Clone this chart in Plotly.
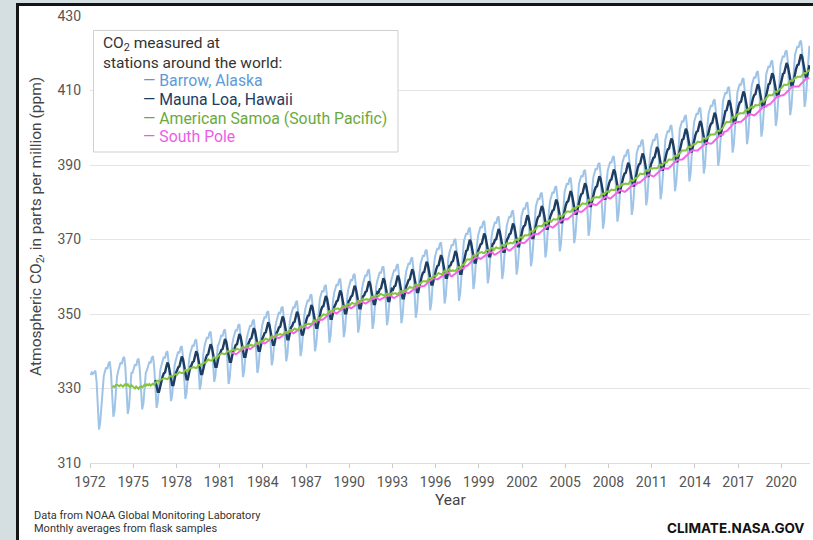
import plotly.graph_objects as go

# ---------------- data (monthly averages, ppm) ----------------
x_tick_years = [1972, 1975, 1978, 1981, 1984, 1987, 1990, 1993, 1996, 1999, 2002, 2005, 2008, 2011, 2014, 2017, 2020]
y_tick_values = [310, 330, 350, 370, 390, 410, 430]

barrow_start = (1972, 1)
barrow = [
    333.6, 334.3, 333.9, 334.5, 334.8, 331.8, 325.3, 319.0, 320.9, 326.1, 330.4, 333.4,
    334.6, 335.7, 335.3, 336.8, 337.2, 334.2, 328.3, 322.4, 324.2, 329.1, 333.1, 334.7,
    335.9, 337.0, 336.6, 338.1, 338.5, 335.5, 329.3, 323.2, 325.0, 330.1, 334.2, 334.2,
    335.4, 336.5, 336.1, 337.6, 338.0, 335.0, 329.8, 324.4, 326.0, 330.5, 334.2, 334.9,
    336.1, 337.2, 336.8, 338.3, 338.7, 335.7, 330.4, 324.8, 326.5, 331.1, 334.8, 336.2,
    337.4, 338.5, 338.1, 339.6, 340.0, 337.0, 332.0, 326.6, 328.2, 332.6, 336.2, 337.6,
    338.8, 339.9, 339.5, 341.0, 341.4, 338.4, 332.9, 327.2, 328.9, 333.6, 337.4, 339.4,
    340.6, 341.7, 341.3, 342.8, 343.2, 340.2, 335.1, 329.7, 331.3, 335.8, 339.4, 341.5,
    342.7, 343.8, 343.4, 344.9, 345.3, 342.3, 337.2, 331.8, 333.4, 337.9, 341.5, 342.1,
    343.3, 344.4, 344.0, 345.5, 345.9, 342.9, 337.1, 331.2, 333.0, 337.8, 341.8, 343.5,
    344.7, 345.8, 345.4, 346.9, 347.3, 344.3, 338.8, 333.1, 334.8, 339.5, 343.3, 344.7,
    345.9, 347.0, 346.6, 348.1, 348.5, 345.5, 339.9, 334.2, 335.9, 340.6, 344.5, 347.0,
    348.2, 349.3, 348.9, 350.4, 350.8, 347.8, 342.0, 336.2, 338.0, 342.8, 346.7, 348.2,
    349.4, 350.5, 350.1, 351.6, 352.0, 349.0, 343.2, 337.3, 339.1, 343.9, 347.9, 349.7,
    350.9, 352.0, 351.6, 353.1, 353.5, 350.5, 344.6, 338.7, 340.5, 345.4, 349.4, 351.5,
    352.7, 353.8, 353.4, 354.9, 355.3, 352.3, 346.1, 340.0, 341.8, 346.9, 351.0, 354.0,
    355.2, 356.3, 355.9, 357.4, 357.8, 354.8, 348.5, 342.3, 344.2, 349.3, 353.5, 355.7,
    356.9, 358.0, 357.6, 359.1, 359.5, 356.5, 350.1, 343.8, 345.7, 350.9, 355.1, 357.0,
    358.2, 359.3, 358.9, 360.4, 360.8, 357.8, 351.3, 345.0, 346.9, 352.1, 356.4, 358.2,
    359.4, 360.5, 360.1, 361.6, 362.0, 359.0, 352.4, 346.0, 347.9, 353.2, 357.5, 359.0,
    360.2, 361.3, 360.9, 362.4, 362.8, 359.8, 353.3, 347.0, 348.9, 354.1, 358.4, 359.6,
    360.8, 361.9, 361.5, 363.0, 363.4, 360.4, 353.9, 347.5, 349.4, 354.7, 359.0, 361.4,
    362.6, 363.7, 363.3, 364.8, 365.2, 362.2, 355.5, 349.0, 350.9, 356.3, 360.7, 363.5,
    364.7, 365.8, 365.4, 366.9, 367.3, 364.3, 357.5, 351.0, 353.0, 358.3, 362.7, 365.4,
    366.6, 367.7, 367.3, 368.8, 369.2, 366.2, 359.4, 352.8, 354.8, 360.2, 364.6, 366.4,
    367.6, 368.7, 368.3, 369.8, 370.2, 367.2, 360.2, 353.5, 355.5, 361.0, 365.5, 369.4,
    370.6, 371.7, 371.3, 372.8, 373.2, 370.2, 363.3, 356.7, 358.7, 364.1, 368.6, 371.2,
    372.4, 373.5, 373.1, 374.6, 375.0, 372.0, 364.9, 358.2, 360.2, 365.8, 370.3, 372.4,
    373.6, 374.7, 374.3, 375.8, 376.2, 373.2, 366.1, 359.4, 361.4, 367.0, 371.5, 374.0,
    375.2, 376.3, 375.9, 377.4, 377.8, 374.8, 367.5, 360.6, 362.7, 368.3, 373.0, 376.2,
    377.4, 378.5, 378.1, 379.6, 380.0, 377.0, 369.7, 362.8, 364.9, 370.5, 375.2, 378.8,
    380.0, 381.1, 380.7, 382.2, 382.6, 379.6, 372.2, 365.2, 367.3, 373.0, 377.7, 380.5,
    381.7, 382.8, 382.4, 383.9, 384.3, 381.3, 373.8, 366.8, 368.9, 374.7, 379.4, 382.8,
    384.0, 385.1, 384.7, 386.2, 386.6, 383.6, 376.0, 369.0, 371.1, 376.9, 381.7, 384.9,
    386.1, 387.2, 386.8, 388.3, 388.7, 385.7, 378.1, 371.0, 373.1, 379.0, 383.7, 386.8,
    388.0, 389.1, 388.7, 390.2, 390.6, 387.6, 380.0, 372.9, 375.0, 380.9, 385.6, 388.6,
    389.8, 390.9, 390.5, 392.0, 392.4, 389.4, 381.8, 374.8, 376.9, 382.7, 387.5, 390.4,
    391.6, 392.7, 392.3, 393.8, 394.2, 391.2, 383.6, 376.6, 378.7, 384.5, 389.3, 393.0,
    394.2, 395.3, 394.9, 396.4, 396.8, 393.8, 386.2, 379.2, 381.3, 387.1, 391.9, 394.6,
    395.8, 396.9, 396.5, 398.0, 398.4, 395.4, 387.8, 380.8, 382.9, 388.7, 393.5, 396.9,
    398.1, 399.2, 398.8, 400.3, 400.7, 397.7, 390.1, 383.0, 385.1, 391.0, 395.7, 399.6,
    400.8, 401.9, 401.5, 403.0, 403.4, 400.4, 392.7, 385.6, 387.7, 393.6, 398.4, 401.6,
    402.8, 403.9, 403.5, 405.0, 405.4, 402.4, 394.8, 387.7, 389.8, 395.7, 400.5, 403.8,
    405.0, 406.1, 405.7, 407.2, 407.6, 404.6, 396.9, 389.8, 391.9, 397.8, 402.6, 407.2,
    408.4, 409.5, 409.1, 410.6, 411.0, 408.0, 400.4, 393.3, 395.4, 401.3, 406.0, 409.5,
    410.7, 411.8, 411.4, 412.9, 413.3, 410.3, 402.7, 395.6, 397.7, 403.6, 408.3, 411.4,
    412.6, 413.7, 413.3, 414.8, 415.2, 412.2, 404.6, 397.6, 399.7, 405.5, 410.3, 414.3,
    415.5, 416.6, 416.2, 417.7, 418.1, 415.1, 407.5, 400.5, 402.6, 408.4, 413.2, 417.0,
    418.2, 419.3, 418.9, 420.4, 420.8, 417.8, 410.4, 403.4, 405.5, 411.2, 415.9, 419.6,
    420.8, 421.9, 421.5, 423.0, 423.4, 420.4, 412.7, 405.6, 407.7, 413.6, 418.4, 422.0,
]

mauna_loa_start = (1976, 7)
mauna_loa = [
    332.3, 330.5, 329.1, 329.1, 330.8, 332.3,
    333.2, 334.1, 334.3, 335.7, 337.0, 336.3, 334.1, 332.3, 330.9, 330.9, 332.6, 334.1,
    334.8, 335.7, 335.9, 337.3, 338.6, 337.9, 335.7, 333.9, 332.5, 332.5, 334.2, 335.7,
    336.2, 337.1, 337.3, 338.7, 340.0, 339.3, 337.1, 335.3, 333.9, 333.9, 335.6, 337.1,
    338.1, 339.0, 339.2, 340.6, 341.9, 341.2, 339.0, 337.2, 335.8, 335.8, 337.5, 339.0,
    339.5, 340.4, 340.6, 342.0, 343.3, 342.6, 340.4, 338.6, 337.2, 337.2, 338.9, 340.4,
    340.8, 341.7, 341.9, 343.3, 344.6, 343.9, 341.7, 339.9, 338.5, 338.5, 340.2, 341.7,
    342.4, 343.3, 343.5, 344.9, 346.2, 345.5, 343.3, 341.5, 340.1, 340.1, 341.8, 343.3,
    344.0, 344.9, 345.1, 346.5, 347.8, 347.1, 344.9, 343.1, 341.7, 341.7, 343.4, 344.9,
    345.5, 346.4, 346.6, 348.0, 349.3, 348.6, 346.4, 344.6, 343.2, 343.2, 344.9, 346.4,
    346.8, 347.7, 347.9, 349.3, 350.6, 349.9, 347.7, 345.9, 344.5, 344.5, 346.2, 347.7,
    348.6, 349.5, 349.7, 351.1, 352.4, 351.7, 349.5, 347.7, 346.3, 346.3, 348.0, 349.5,
    351.0, 351.9, 352.1, 353.5, 354.8, 354.1, 351.9, 350.1, 348.7, 348.7, 350.4, 351.9,
    352.5, 353.4, 353.6, 355.0, 356.3, 355.6, 353.4, 351.6, 350.2, 350.2, 351.9, 353.4,
    353.8, 354.7, 354.9, 356.3, 357.6, 356.9, 354.7, 352.9, 351.5, 351.5, 353.2, 354.7,
    355.0, 355.9, 356.1, 357.5, 358.8, 358.1, 355.9, 354.1, 352.7, 352.7, 354.4, 355.9,
    355.8, 356.7, 356.9, 358.3, 359.6, 358.9, 356.7, 354.9, 353.5, 353.5, 355.2, 356.7,
    356.5, 357.4, 357.6, 359.0, 360.3, 359.6, 357.4, 355.6, 354.2, 354.2, 355.9, 357.4,
    358.2, 359.1, 359.3, 360.7, 362.0, 361.3, 359.1, 357.3, 355.9, 355.9, 357.6, 359.1,
    360.2, 361.1, 361.3, 362.7, 364.0, 363.3, 361.1, 359.3, 357.9, 357.9, 359.6, 361.1,
    362.0, 362.9, 363.1, 364.5, 365.8, 365.1, 362.9, 361.1, 359.7, 359.7, 361.4, 362.9,
    363.1, 364.0, 364.2, 365.6, 366.9, 366.2, 364.0, 362.2, 360.8, 360.8, 362.5, 364.0,
    366.1, 367.0, 367.2, 368.6, 369.9, 369.2, 367.0, 365.2, 363.8, 363.8, 365.5, 367.0,
    367.8, 368.7, 368.9, 370.3, 371.6, 370.9, 368.7, 366.9, 365.5, 365.5, 367.2, 368.7,
    369.0, 369.9, 370.1, 371.5, 372.8, 372.1, 369.9, 368.1, 366.7, 366.7, 368.4, 369.9,
    370.5, 371.4, 371.6, 373.0, 374.3, 373.6, 371.4, 369.6, 368.2, 368.2, 369.9, 371.4,
    372.7, 373.6, 373.8, 375.2, 376.5, 375.8, 373.6, 371.8, 370.4, 370.4, 372.1, 373.6,
    375.2, 376.1, 376.3, 377.7, 379.0, 378.3, 376.1, 374.3, 372.9, 372.9, 374.6, 376.1,
    376.9, 377.8, 378.0, 379.4, 380.7, 380.0, 377.8, 376.0, 374.6, 374.6, 376.3, 377.8,
    379.2, 380.1, 380.3, 381.7, 383.0, 382.3, 380.1, 378.3, 376.9, 376.9, 378.6, 380.1,
    381.3, 382.2, 382.4, 383.8, 385.1, 384.4, 382.2, 380.4, 379.0, 379.0, 380.7, 382.2,
    383.2, 384.1, 384.3, 385.7, 387.0, 386.3, 384.1, 382.3, 380.9, 380.9, 382.6, 384.1,
    385.0, 385.9, 386.1, 387.5, 388.8, 388.1, 385.9, 384.1, 382.7, 382.7, 384.4, 385.9,
    386.8, 387.7, 387.9, 389.3, 390.6, 389.9, 387.7, 385.9, 384.5, 384.5, 386.2, 387.7,
    389.3, 390.2, 390.4, 391.8, 393.1, 392.4, 390.2, 388.4, 387.0, 387.0, 388.7, 390.2,
    391.0, 391.9, 392.1, 393.5, 394.8, 394.1, 391.9, 390.1, 388.7, 388.7, 390.4, 391.9,
    393.3, 394.2, 394.4, 395.8, 397.1, 396.4, 394.2, 392.4, 391.0, 391.0, 392.7, 394.2,
    395.9, 396.8, 397.0, 398.4, 399.7, 399.0, 396.8, 395.0, 393.6, 393.6, 395.3, 396.8,
    398.0, 398.9, 399.1, 400.5, 401.8, 401.1, 398.9, 397.1, 395.7, 395.7, 397.4, 398.9,
    400.2, 401.1, 401.3, 402.7, 404.0, 403.3, 401.1, 399.3, 397.9, 397.9, 399.6, 401.1,
    403.6, 404.5, 404.7, 406.1, 407.4, 406.7, 404.5, 402.7, 401.3, 401.3, 403.0, 404.5,
    405.9, 406.8, 407.0, 408.4, 409.7, 409.0, 406.8, 405.0, 403.6, 403.6, 405.3, 406.8,
    407.9, 408.8, 409.0, 410.4, 411.7, 411.0, 408.8, 407.0, 405.6, 405.6, 407.3, 408.8,
    410.8, 411.7, 411.9, 413.3, 414.6, 413.9, 411.7, 409.9, 408.5, 408.5, 410.2, 411.7,
    413.6, 414.5, 414.7, 416.1, 417.4, 416.7, 414.5, 412.7, 411.3, 411.3, 413.0, 414.5,
    415.9, 416.8, 417.0, 418.4, 419.7, 419.0, 416.8, 415.0, 413.6, 413.6, 415.3, 416.8,
]

samoa_start = (1973, 7)
samoa = [
    330.3, 330.6, 330.4, 330.9, 331.0, 330.7,
    330.6, 331.0, 330.8, 330.5, 330.9, 331.2, 330.8, 331.1, 330.6, 330.4, 330.9, 330.7,
    330.3, 330.0, 330.5, 330.2, 329.9, 330.4, 330.6, 330.3, 330.8, 331.0, 330.7, 331.1,
    330.9, 331.2, 330.8, 331.1, 331.3, 331.0, 331.5, 331.9, 332.1, 331.8, 332.3, 332.5,
    332.5, 332.7, 332.7, 332.5, 332.5, 332.8, 333.3, 333.3, 333.1, 333.4, 333.8, 333.8,
    333.7, 334.1, 334.4, 334.2, 334.1, 334.1, 334.6, 335.0, 334.9, 334.7, 335.2, 335.5,
    335.4, 335.7, 335.7, 335.5, 335.5, 335.8, 336.3, 336.3, 336.1, 336.5, 336.9, 337.0,
    337.0, 337.5, 337.8, 337.6, 337.5, 337.5, 338.0, 338.4, 338.3, 338.1, 338.6, 338.9,
    339.2, 339.4, 339.4, 339.2, 339.2, 339.5, 340.0, 340.0, 339.8, 340.1, 340.4, 340.5,
    340.1, 340.5, 340.7, 340.5, 340.4, 340.4, 340.9, 341.2, 341.1, 341.0, 341.4, 341.6,
    341.5, 341.7, 341.7, 341.5, 341.5, 341.8, 342.3, 342.3, 342.1, 342.4, 342.8, 342.8,
    342.7, 343.1, 343.4, 343.2, 343.1, 343.1, 343.6, 344.0, 343.9, 343.7, 344.2, 344.5,
    344.4, 344.6, 344.6, 344.4, 344.4, 344.7, 345.2, 345.2, 345.0, 345.3, 345.7, 345.7,
    345.4, 345.8, 346.1, 345.9, 345.8, 345.8, 346.3, 346.7, 346.6, 346.4, 346.9, 347.2,
    347.2, 347.4, 347.4, 347.3, 347.3, 347.7, 348.2, 348.3, 348.1, 348.5, 348.9, 348.9,
    349.2, 349.6, 349.9, 349.8, 349.7, 349.8, 350.3, 350.8, 350.7, 350.6, 351.0, 351.4,
    351.3, 351.5, 351.5, 351.3, 351.3, 351.6, 352.1, 352.1, 351.9, 352.2, 352.6, 352.6,
    352.3, 352.7, 353.0, 352.8, 352.7, 352.7, 353.2, 353.6, 353.5, 353.3, 353.8, 354.1,
    353.8, 354.0, 354.0, 353.8, 353.8, 354.1, 354.6, 354.6, 354.4, 354.7, 355.0, 355.0,
    354.8, 355.2, 355.4, 355.2, 355.0, 354.9, 355.2, 355.5, 355.4, 355.1, 355.4, 355.6,
    355.4, 355.6, 355.6, 355.4, 355.4, 355.7, 356.1, 356.1, 355.9, 356.2, 356.5, 356.6,
    356.6, 357.0, 357.3, 357.1, 357.0, 357.0, 357.5, 357.9, 357.8, 357.6, 358.1, 358.4,
    358.6, 358.8, 358.8, 358.7, 358.7, 359.1, 359.6, 359.7, 359.5, 359.9, 360.3, 360.3,
    360.3, 360.7, 361.0, 360.8, 360.7, 360.7, 361.2, 361.6, 361.5, 361.3, 361.8, 362.1,
    361.5, 361.7, 361.7, 361.6, 361.6, 362.0, 362.5, 362.6, 362.4, 362.8, 363.2, 363.2,
    363.9, 364.4, 364.7, 364.6, 364.6, 364.7, 365.2, 365.7, 365.7, 365.6, 366.1, 366.5,
    366.4, 366.6, 366.6, 366.4, 366.4, 366.7, 367.2, 367.2, 367.0, 367.3, 367.7, 367.7,
    367.2, 367.6, 367.9, 367.7, 367.6, 367.6, 368.1, 368.5, 368.4, 368.2, 368.7, 369.0,
    368.9, 369.1, 369.1, 369.0, 369.0, 369.4, 369.9, 370.0, 369.8, 370.2, 370.6, 370.6,
    370.4, 370.9, 371.2, 371.1, 371.1, 371.2, 371.7, 372.2, 372.2, 372.1, 372.6, 373.0,
    373.4, 373.6, 373.6, 373.5, 373.5, 373.9, 374.4, 374.5, 374.3, 374.7, 375.1, 375.1,
    374.8, 375.2, 375.5, 375.4, 375.3, 375.4, 375.9, 376.4, 376.3, 376.2, 376.6, 377.0,
    377.3, 377.5, 377.5, 377.4, 377.4, 377.8, 378.3, 378.4, 378.2, 378.6, 379.0, 379.0,
    379.0, 379.4, 379.7, 379.6, 379.5, 379.6, 380.1, 380.6, 380.5, 380.4, 380.8, 381.2,
    381.2, 381.4, 381.4, 381.3, 381.3, 381.7, 382.2, 382.3, 382.1, 382.5, 382.9, 382.9,
    382.7, 383.1, 383.4, 383.3, 383.2, 383.3, 383.8, 384.3, 384.2, 384.1, 384.5, 384.9,
    384.8, 385.0, 385.0, 384.9, 384.9, 385.3, 385.8, 385.9, 385.7, 386.1, 386.5, 386.5,
    387.0, 387.4, 387.7, 387.6, 387.5, 387.6, 388.1, 388.6, 388.5, 388.4, 388.8, 389.2,
    389.0, 389.2, 389.2, 389.1, 389.1, 389.5, 390.0, 390.1, 389.9, 390.3, 390.7, 390.7,
    390.7, 391.2, 391.5, 391.4, 391.4, 391.5, 392.0, 392.5, 392.5, 392.4, 392.9, 393.3,
    393.6, 393.9, 393.9, 393.8, 393.9, 394.3, 394.8, 394.9, 394.8, 395.2, 395.6, 395.7,
    395.6, 396.0, 396.3, 396.2, 396.1, 396.2, 396.7, 397.2, 397.1, 397.0, 397.4, 397.8,
    397.9, 398.2, 398.2, 398.1, 398.2, 398.6, 399.1, 399.2, 399.1, 399.5, 399.9, 400.0,
    400.8, 401.3, 401.6, 401.5, 401.5, 401.6, 402.2, 402.8, 402.8, 402.7, 403.2, 403.6,
    403.6, 403.9, 403.9, 403.8, 403.9, 404.3, 404.8, 404.9, 404.8, 405.2, 405.6, 405.7,
    405.3, 405.8, 406.1, 406.0, 406.0, 406.1, 406.6, 407.1, 407.1, 407.0, 407.5, 407.9,
    408.4, 408.7, 408.7, 408.6, 408.7, 409.1, 409.6, 409.7, 409.6, 410.0, 410.4, 410.5,
    410.8, 411.3, 411.6, 411.5, 411.5, 411.6, 412.1, 412.6, 412.6, 412.5, 413.0, 413.4,
    413.4, 413.7, 413.7, 413.6, 413.7, 414.1, 414.6, 414.7, 414.6, 415.0, 415.4, 415.5,
]

south_pole_start = (1981, 10)
south_pole = [
    339.3, 339.6, 339.6,
    339.3, 339.2, 339.4, 339.6, 339.9, 340.1, 340.4, 340.6, 340.9, 341.0, 341.0, 340.9,
    340.7, 340.6, 340.8, 341.0, 341.3, 341.5, 341.8, 342.0, 342.3, 342.4, 342.4, 342.3,
    342.2, 342.1, 342.3, 342.5, 342.8, 343.0, 343.3, 343.5, 343.8, 343.9, 343.9, 343.8,
    343.6, 343.5, 343.7, 343.9, 344.2, 344.4, 344.7, 344.9, 345.2, 345.3, 345.3, 345.2,
    344.9, 344.8, 345.0, 345.2, 345.5, 345.7, 346.0, 346.2, 346.5, 346.6, 346.6, 346.5,
    346.3, 346.2, 346.4, 346.7, 347.0, 347.3, 347.6, 347.9, 348.2, 348.4, 348.4, 348.3,
    348.5, 348.4, 348.6, 348.9, 349.2, 349.5, 349.8, 350.1, 350.4, 350.6, 350.6, 350.5,
    350.3, 350.2, 350.4, 350.6, 350.9, 351.1, 351.4, 351.6, 351.9, 352.0, 352.0, 351.9,
    351.6, 351.5, 351.7, 351.9, 352.2, 352.4, 352.7, 352.9, 353.2, 353.3, 353.3, 353.2,
    352.9, 352.8, 353.0, 353.2, 353.5, 353.6, 353.9, 354.1, 354.3, 354.4, 354.3, 354.2,
    353.9, 353.8, 354.0, 354.2, 354.4, 354.5, 354.7, 354.8, 355.0, 355.0, 354.9, 354.8,
    354.4, 354.3, 354.5, 354.7, 355.0, 355.1, 355.3, 355.5, 355.8, 355.9, 355.9, 355.8,
    355.7, 355.6, 355.8, 356.0, 356.3, 356.5, 356.8, 357.0, 357.3, 357.5, 357.5, 357.4,
    357.4, 357.3, 357.5, 357.8, 358.1, 358.4, 358.7, 359.0, 359.3, 359.5, 359.5, 359.4,
    359.4, 359.3, 359.5, 359.7, 360.0, 360.2, 360.5, 360.7, 361.0, 361.1, 361.1, 361.0,
    360.2, 360.1, 360.3, 360.6, 360.9, 361.2, 361.5, 361.8, 362.1, 362.3, 362.3, 362.2,
    362.8, 362.8, 363.0, 363.3, 363.7, 364.0, 364.3, 364.6, 365.0, 365.2, 365.2, 365.2,
    364.9, 364.8, 365.0, 365.2, 365.5, 365.7, 366.0, 366.2, 366.5, 366.6, 366.6, 366.5,
    366.0, 365.9, 366.1, 366.3, 366.6, 366.7, 367.0, 367.2, 367.5, 367.6, 367.6, 367.5,
    367.1, 367.0, 367.2, 367.5, 367.8, 368.1, 368.4, 368.7, 369.0, 369.2, 369.2, 369.1,
    369.0, 369.0, 369.2, 369.5, 369.9, 370.2, 370.5, 370.8, 371.2, 371.4, 371.4, 371.4,
    371.6, 371.5, 371.7, 372.0, 372.3, 372.6, 372.9, 373.2, 373.5, 373.7, 373.7, 373.6,
    373.3, 373.2, 373.4, 373.7, 374.0, 374.3, 374.6, 374.9, 375.2, 375.4, 375.4, 375.3,
    375.5, 375.4, 375.6, 375.9, 376.2, 376.5, 376.8, 377.1, 377.4, 377.6, 377.6, 377.5,
    377.5, 377.4, 377.6, 377.9, 378.2, 378.5, 378.8, 379.1, 379.4, 379.6, 379.6, 379.5,
    379.3, 379.2, 379.4, 379.7, 380.0, 380.3, 380.6, 380.9, 381.2, 381.4, 381.4, 381.3,
    381.1, 381.0, 381.2, 381.5, 381.8, 382.1, 382.4, 382.7, 383.0, 383.2, 383.2, 383.1,
    382.9, 382.8, 383.0, 383.3, 383.6, 383.9, 384.2, 384.5, 384.8, 385.0, 385.0, 384.9,
    385.3, 385.2, 385.4, 385.7, 386.0, 386.3, 386.6, 386.9, 387.2, 387.4, 387.4, 387.3,
    387.0, 386.9, 387.1, 387.4, 387.7, 388.0, 388.3, 388.6, 388.9, 389.1, 389.1, 389.0,
    389.0, 389.0, 389.2, 389.5, 389.9, 390.2, 390.5, 390.8, 391.2, 391.4, 391.4, 391.4,
    391.5, 391.5, 391.7, 392.0, 392.4, 392.7, 393.0, 393.3, 393.7, 393.9, 393.9, 393.9,
    393.8, 393.7, 393.9, 394.2, 394.5, 394.8, 395.1, 395.4, 395.7, 395.9, 395.9, 395.8,
    395.7, 395.7, 395.9, 396.2, 396.6, 396.9, 397.2, 397.5, 397.9, 398.1, 398.1, 398.1,
    398.9, 398.9, 399.1, 399.4, 399.8, 400.2, 400.5, 400.9, 401.3, 401.5, 401.5, 401.5,
    401.5, 401.4, 401.6, 401.9, 402.2, 402.5, 402.8, 403.1, 403.4, 403.6, 403.6, 403.5,
    403.3, 403.3, 403.5, 403.8, 404.2, 404.5, 404.8, 405.1, 405.5, 405.7, 405.7, 405.7,
    406.1, 406.1, 406.3, 406.6, 407.0, 407.3, 407.6, 407.9, 408.3, 408.5, 408.5, 408.5,
    408.7, 408.7, 408.9, 409.2, 409.6, 409.9, 410.2, 410.5, 410.9, 411.1, 411.1, 411.1,
    410.9, 410.9, 411.1, 411.4, 411.8, 412.1, 412.4, 412.7, 413.1, 413.3, 413.3, 413.3,
]

station_names = ["Barrow, Alaska", "Mauna Loa, Hawaii", "American Samoa (South Pacific)", "South Pole"]


def month_positions(start, n):
    y0, m0 = start
    return [y0 + (m0 - 1 + i + 0.5) / 12.0 for i in range(n)]


# ---------------- styling ----------------
W, H = 813, 540
L_PX, R_PX, T_PX, B_PX = 90, 810, 16, 463
PAGE_BG = "#d5dfe2"
FRAME = "#151515"


def px(xp):
    return (xp - L_PX) / (R_PX - L_PX)


def py(yp):
    return (B_PX - yp) / (B_PX - T_PX)


line_colors = ["#9fc4e7", "#1d3d63", "#86c440", "#f266e6"]
text_colors = ["#5d9bd6", "#1d3d63", "#6aaa3c", "#ee5ce4"]
line_widths = [2.0, 2.4, 2.0, 2.0]

fig = go.Figure()
series = [(barrow_start, barrow), (mauna_loa_start, mauna_loa), (south_pole_start, south_pole), (samoa_start, samoa)]
order = [0, 1, 3, 2]
for (start, vals), idx in zip(series, order):
    fig.add_trace(go.Scatter(
        x=month_positions(start, len(vals)), y=vals, mode="lines",
        name=station_names[idx],
        line=dict(color=line_colors[idx], width=line_widths[idx]),
        hoverinfo="skip", showlegend=False,
    ))

FONT = "Roboto"

shapes = [
    # legend box
    dict(type="rect", xref="paper", yref="paper", layer="above",
         x0=px(93.5), x1=px(398), y0=py(152), y1=py(30.5),
         fillcolor="white", line=dict(color="#cfcfcf", width=1)),
]

annotations = [
    dict(text="CO<sub>2</sub> measured at", x=px(101), y=py(44.5)),
    dict(text="stations around the world:", x=px(101), y=py(62.5)),
]
for i, (name, yy) in enumerate(zip(station_names, [81, 99.5, 118, 136.5])):
    annotations.append(dict(text="\u2014 " + name, x=px(141), y=py(yy),
                            font=dict(family=FONT, size=15.8, color=text_colors[i])))
for a in annotations:
    a.update(xref="paper", yref="paper", xanchor="left", yanchor="middle", showarrow=False)
    a.setdefault("font", dict(family=FONT, size=15.5, color="#333333"))

annotations += [
    dict(text="Atmospheric CO<sub>2</sub>, in parts per million (ppm)", x=px(37), y=py(227),
         xref="paper", yref="paper", textangle=-90, showarrow=False,
         xanchor="center", yanchor="middle", font=dict(family=FONT, size=15.5, color="#444444")),
    dict(text="Year", x=px(450), y=py(500), xref="paper", yref="paper", showarrow=False,
         xanchor="center", yanchor="middle", font=dict(family=FONT, size=15.5, color="#444444")),
    dict(text="Data from NOAA Global Monitoring Laboratory", x=px(32), y=py(515), xref="paper", yref="paper",
         showarrow=False, xanchor="left", yanchor="middle", font=dict(family=FONT, size=11, color="#333333")),
    dict(text="Monthly averages from flask samples", x=px(32), y=py(528.5), xref="paper", yref="paper",
         showarrow=False, xanchor="left", yanchor="middle", font=dict(family=FONT, size=11, color="#333333")),
    dict(text="<b>CLIMATE.NASA.GOV</b>", x=px(806), y=py(528), xref="paper", yref="paper",
         showarrow=False, xanchor="right", yanchor="middle", font=dict(family="Inter", size=13.5, color="#111111")),
]

fig.update_layout(
    width=W, height=H,
    margin=dict(l=L_PX, r=W - R_PX, t=T_PX, b=H - B_PX, pad=0),
    paper_bgcolor="white", plot_bgcolor="white",
    shapes=shapes, annotations=annotations,
    font=dict(family=FONT, color="#555555"),
)
fig.update_xaxes(
    range=[1972, 2022], tickmode="array", tickvals=x_tick_years, ticktext=[str(v) for v in x_tick_years],
    showgrid=False, zeroline=False, showline=True, linecolor="#dddddd", linewidth=1,
    ticks="outside", ticklen=4, tickcolor="#cccccc", tickfont=dict(family=FONT, size=14, color="#555555"),
    ticklabelstandoff=2,
)
fig.update_yaxes(
    range=[310, 430], tickmode="array", tickvals=y_tick_values, ticktext=[str(v) for v in y_tick_values],
    showgrid=True, gridcolor="#e4e4e4", gridwidth=1, zeroline=False, showline=False,
    ticks="", tickfont=dict(family=FONT, size=14, color="#555555"), ticklabelstandoff=8,
)

# page setup: no default body margin, plus the grey-blue window strip and dark panel edge
# (left and top) that frame the screenshot.
frame_boxes = [
    (0, 0, 16, 540, PAGE_BG),
    (0, 0, 813, 3, PAGE_BG),
    (16, 3, 3, 537, FRAME),
    (16, 3, 797, 3, FRAME),
]
page_js = ("document.documentElement.style.margin='0px';document.body.style.margin='0px';"
           "document.body.style.padding='0px';document.body.style.overflow='hidden';"
           "document.body.style.background='white';")
for (l, t, w, h, c) in frame_boxes:
    page_js += ("(function(){var d=document.createElement('div');d.style.cssText="
                "'position:fixed;left:%dpx;top:%dpx;width:%dpx;height:%dpx;background:%s;"
                "z-index:1000;pointer-events:none';document.body.appendChild(d);})();" % (l, t, w, h, c))

fig.write_html("out.html", post_script=page_js, config={"displayModeBar": False})
